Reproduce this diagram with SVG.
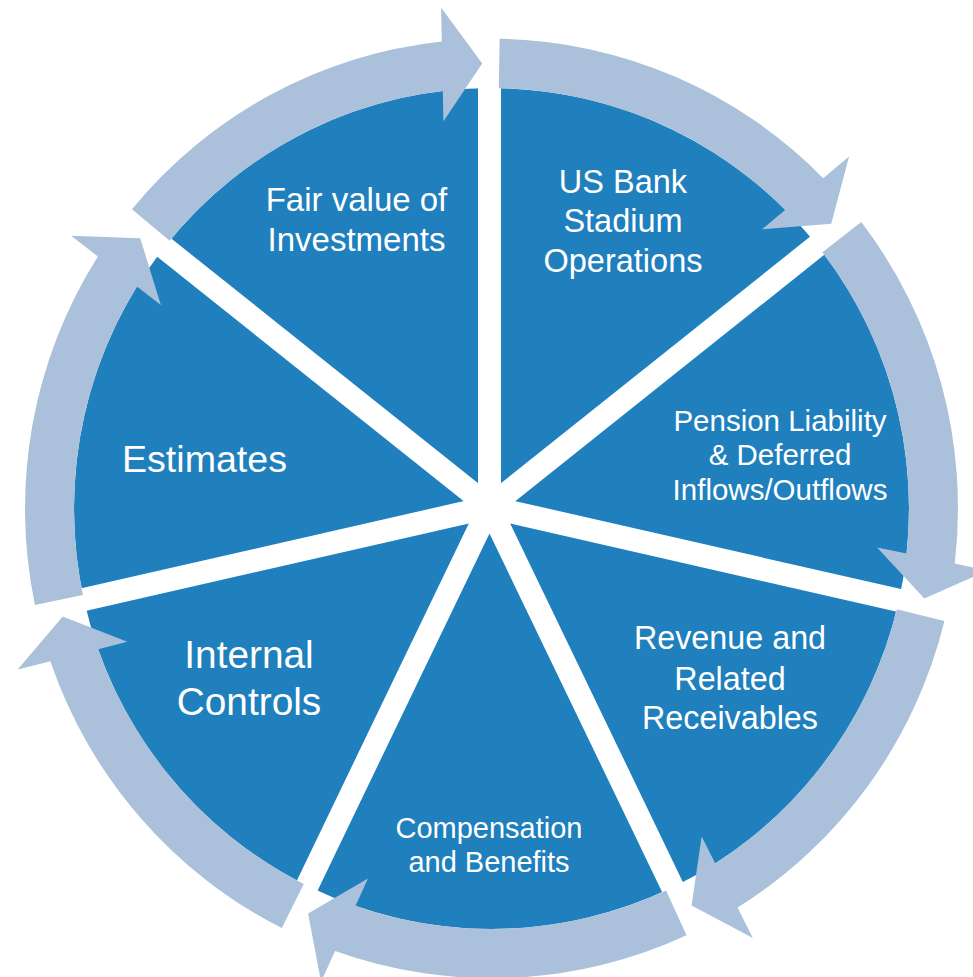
<svg xmlns="http://www.w3.org/2000/svg" xmlns:xlink="http://www.w3.org/1999/xlink" width="973" height="977" viewBox="0 0 973 977">
<style>
.seg{fill:#1F80BD}
.arr{fill:#ABC1DB}
.gap{stroke:#FFFFFF;stroke-width:23;fill:none}
.lbl{font-family:'Liberation Sans',Arial,sans-serif;fill:#FFFFFF;text-anchor:middle}
</style>
<defs>
<path id="sector" d="M0,0 L0,-417.5 A417.5,417.5 0 0 1 326.41,-260.31 Z"/>
<path id="arrow" d="M8.142,-466.43 A466.5,466.5 0 0 1 331.64,-328.07 L357.56,-349.65 L339.72,-282.76 L270.70,-277.36 L293.82,-296.60 A417.5,417.5 0 0 0 7.286,-417.44 Z"/>
</defs>
<rect width="973" height="977" fill="#FFFFFF"/>
<g id="node-usbank">
<use href="#sector" class="seg" transform="translate(491.5 508.5) scale(1 1.007) rotate(0)"/>
<text class="lbl" font-size="32.5" x="623" y="193">US Bank</text>
<text class="lbl" font-size="32.5" x="623" y="232">Stadium</text>
<text class="lbl" font-size="32.5" x="623" y="272">Operations</text>
</g>
<g id="node-pension">
<use href="#sector" class="seg" transform="translate(491.5 508.5) scale(1 1.007) rotate(51.4286)"/>
<text class="lbl" font-size="29.5" x="780" y="431">Pension Liability</text>
<text class="lbl" font-size="29.5" x="780" y="465">&amp; Deferred</text>
<text class="lbl" font-size="29.5" x="780" y="500">Inflows/Outflows</text>
</g>
<g id="node-revenue">
<use href="#sector" class="seg" transform="translate(491.5 508.5) scale(1 1.007) rotate(102.8571)"/>
<text class="lbl" font-size="32.3" x="730" y="649">Revenue and</text>
<text class="lbl" font-size="32.3" x="730" y="690">Related</text>
<text class="lbl" font-size="32.3" x="730" y="729">Receivables</text>
</g>
<g id="node-compensation">
<use href="#sector" class="seg" transform="translate(491.5 508.5) scale(1 1.007) rotate(154.2857)"/>
<text class="lbl" font-size="29" x="489" y="838">Compensation</text>
<text class="lbl" font-size="29" x="489" y="872">and Benefits</text>
</g>
<g id="node-internal">
<use href="#sector" class="seg" transform="translate(491.5 508.5) scale(1 1.007) rotate(205.7143)"/>
<text class="lbl" font-size="38.8" x="249" y="668">Internal</text>
<text class="lbl" font-size="38.8" x="249" y="715">Controls</text>
</g>
<g id="node-estimates">
<use href="#sector" class="seg" transform="translate(491.5 508.5) scale(1 1.007) rotate(257.1429)"/>
<text class="lbl" font-size="37.6" x="204.5" y="472">Estimates</text>
</g>
<g id="node-fairvalue">
<use href="#sector" class="seg" transform="translate(491.5 508.5) scale(1 1.007) rotate(308.5714)"/>
<text class="lbl" font-size="33" x="356.5" y="211">Fair value of</text>
<text class="lbl" font-size="33" x="356.5" y="251">Investments</text>
</g>
<g id="gaps" class="gap">
<line x1="489.5" y1="507" x2="489.5" y2="82"/>
<line x1="489.5" y1="507" x2="821.78" y2="242.02"/>
<line x1="489.5" y1="507" x2="903.85" y2="601.57"/>
<line x1="489.5" y1="507" x2="673.90" y2="889.91"/>
<line x1="489.5" y1="507" x2="305.10" y2="889.91"/>
<line x1="489.5" y1="507" x2="75.15" y2="601.57"/>
<line x1="489.5" y1="507" x2="157.22" y2="242.02"/>
</g>
<g id="connectors" transform="translate(491.5 508.5) scale(1 1.007)">
<use href="#arrow" class="arr" transform="rotate(0)"/>
<use href="#arrow" class="arr" transform="rotate(51.4286)"/>
<use href="#arrow" class="arr" transform="rotate(102.8571)"/>
<use href="#arrow" class="arr" transform="rotate(154.2857)"/>
<use href="#arrow" class="arr" transform="rotate(205.7143)"/>
<use href="#arrow" class="arr" transform="rotate(257.1429)"/>
<use href="#arrow" class="arr" transform="rotate(308.5714)"/>
</g>
</svg>
